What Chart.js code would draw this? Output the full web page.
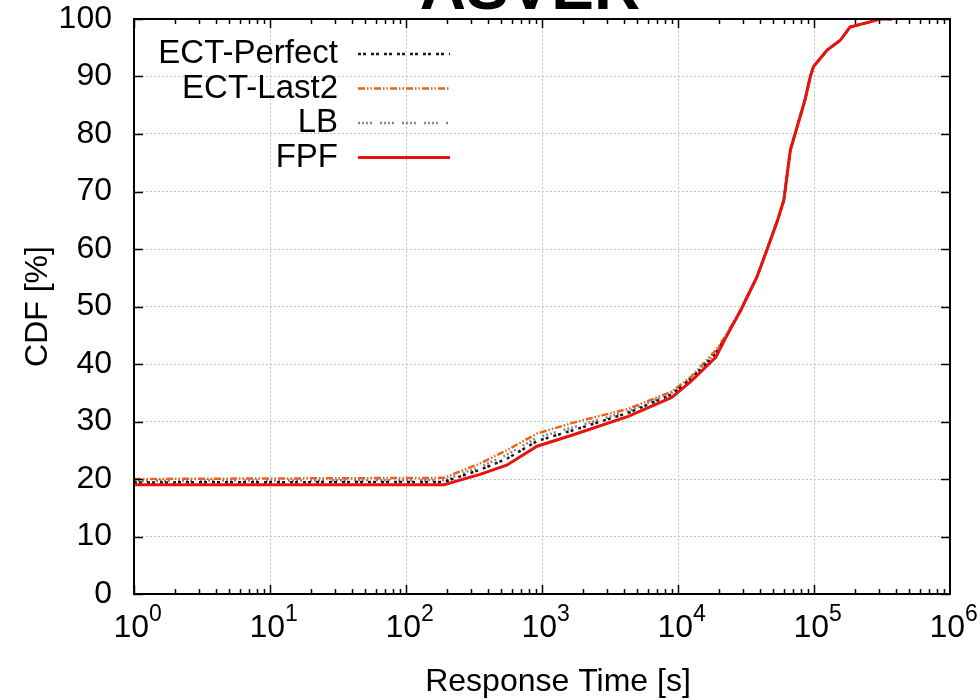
<!DOCTYPE html>
<html>
<head>
<meta charset="utf-8">
<script src="https://cdn.jsdelivr.net/npm/chart.js@4/dist/chart.umd.min.js"></script>
<style>
  html, body { margin: 0; padding: 0; background: #fff; }
  #wrap { width: 980px; height: 700px; overflow: hidden; position: relative; }
  #chart { position: absolute; left: 0; top: -40px; }
</style>
</head>
<body>
<div id="wrap"><canvas id="chart" width="980" height="740"></canvas></div>
<script>
// response times [s] shared by all four CDF curves
var responseTimes = [1, 190, 350, 550, 920, 1700, 4300, 9000, 12500, 19000, 22000, 29000, 38000, 45000, 54000, 60000, 67000, 79000, 86000, 94000, 99000, 125000, 156000, 184000, 258000, 305000, 375000];

// CDF [%] per policy
var ectPerfect = [19.4, 19.5, 21.6, 23.5, 26.6, 28.5, 31.5, 34.7, 37.4, 41.8, 44.3, 49.4, 55.1, 59.8, 65.0, 68.5, 77.2, 83.0, 86.0, 90.0, 91.7, 94.6, 96.3, 98.6, 99.5, 100, 100];
var ectLast2 = [20.0, 20.2, 22.7, 25.0, 27.9, 29.8, 32.2, 35.2, 37.8, 42.4, 44.6, 49.5, 55.2, 59.9, 65.0, 68.5, 77.2, 83.0, 86.0, 90.0, 91.7, 94.6, 96.3, 98.6, 99.5, 100, 100];
var lb = [19.7, 19.8, 22.1, 24.2, 27.2, 29.0, 31.8, 35.0, 37.6, 42.0, 44.4, 49.4, 55.1, 59.8, 65.0, 68.5, 77.2, 83.0, 86.0, 90.0, 91.7, 94.6, 96.3, 98.6, 99.5, 100, 100];
var fpf = [19.0, 19.0, 20.8, 22.4, 25.7, 27.7, 30.9, 34.2, 37.0, 41.2, 44.2, 49.4, 55.1, 59.8, 65.0, 68.5, 77.2, 83.0, 86.0, 90.0, 91.7, 94.6, 96.3, 98.6, 99.5, 100, 100];

var seriesNames = ['ECT-Perfect', 'ECT-Last2', 'LB', 'FPF'];
var xTicks = [1, 10, 100, 1000, 10000, 100000, 1000000];
var yTicks = [0, 10, 20, 30, 40, 50, 60, 70, 80, 90, 100];
var chartTitle = 'ASVER';
var xTitle = 'Response Time [s]';
var yTitle = 'CDF [%]';

var FONT = "'Liberation Sans', Arial, Helvetica, sans-serif";

function toPoints(ys) {
    var ret = [];
    for (var i = 0; i < ys.length; i++) {
        ret.push({ x: responseTimes[i], y: ys[i] });
    }
    return ret;
}

// frame, inward tick marks, x labels with exponents, title and legend
var framePlugin = {
    id: 'frame',
    afterDatasetsDraw: function (chart) {
        var ctx = chart.ctx;
        var a = chart.chartArea;
        var xs = chart.scales.x;
        var ys = chart.scales.y;
        ctx.save();
        ctx.strokeStyle = '#000';
        ctx.lineWidth = 1.5;
        ctx.beginPath();
        for (var d = 0; d < 6; d++) {
            for (var k = 1; k <= 9; k++) {
                var v = k * Math.pow(10, d);
                var px = Math.round(xs.getPixelForValue(v)) + 0.5;
                var len = k === 1 ? 9 : 5;
                ctx.moveTo(px, a.bottom); ctx.lineTo(px, a.bottom - len);
                ctx.moveTo(px, a.top); ctx.lineTo(px, a.top + len);
            }
        }
        for (var i = 0; i < yTicks.length; i++) {
            var py = Math.round(ys.getPixelForValue(yTicks[i])) + 0.5;
            ctx.moveTo(a.left, py); ctx.lineTo(a.left + 9, py);
            ctx.moveTo(a.right, py); ctx.lineTo(a.right - 9, py);
        }
        ctx.stroke();
        ctx.lineWidth = 2;
        ctx.strokeRect(a.left, a.top, a.right - a.left, a.bottom - a.top);

        ctx.fillStyle = '#000';

        // x tick labels as 10 with a raised exponent
        xTicks.forEach(function (v) {
            var px = xs.getPixelForValue(v);
            ctx.textBaseline = 'alphabetic';
            ctx.font = '32px ' + FONT;
            ctx.textAlign = 'right';
            ctx.fillText('10', px + 15, a.bottom + 43);
            ctx.font = '23px ' + FONT;
            ctx.textAlign = 'left';
            ctx.fillText(String(Math.round(Math.log10(v))), px + 15, a.bottom + 27);
        });

        // x axis title
        ctx.font = '32px ' + FONT;
        ctx.textAlign = 'center';
        ctx.textBaseline = 'middle';
        ctx.fillText(xTitle, 558, a.bottom + 88);

        // chart title, cut by the top edge
        ctx.font = 'bold 64px ' + FONT;
        ctx.textAlign = 'center';
        ctx.textBaseline = 'alphabetic';
        ctx.fillText(chartTitle, 530, a.top - 10);

        // legend
        ctx.font = '33px ' + FONT;
        ctx.textAlign = 'right';
        ctx.textBaseline = 'middle';
        chart.data.datasets.forEach(function (ds, n) {
            var y = a.top + 35 + n * 34.5;
            ctx.fillText(ds.label, 338, y);
            ctx.save();
            ctx.strokeStyle = ds.borderColor;
            ctx.lineWidth = ds.borderWidth;
            ctx.setLineDash(ds.borderDash || []);
            ctx.beginPath();
            ctx.moveTo(358, y);
            ctx.lineTo(450, y);
            ctx.stroke();
            ctx.restore();
        });
        ctx.restore();
    }
};

var ctx = document.getElementById('chart').getContext('2d');
var chart = new Chart(ctx, {
    type: 'line',
    data: {
        datasets: [{
            label: seriesNames[0],
            data: toPoints(ectPerfect),
            borderColor: '#1a1a1a',
            borderWidth: 2.5,
            borderDash: [3, 2, 3, 5],
            order: 1
        }, {
            label: seriesNames[1],
            data: toPoints(ectLast2),
            borderColor: '#f06018',
            borderWidth: 2.5,
            borderDash: [7, 2, 1.5, 2, 1.5, 2],
            order: 3
        }, {
            label: seriesNames[2],
            data: toPoints(lb),
            borderColor: '#888888',
            borderWidth: 2.5,
            borderDash: [2, 2, 2, 2, 2, 2, 2, 8],
            order: 2
        }, {
            label: seriesNames[3],
            data: toPoints(fpf),
            borderColor: '#e8120e',
            borderWidth: 3,
            order: 0
        }]
    },
    options: {
        responsive: false,
        animation: false,
        elements: {
            point: { radius: 0 },
            line: { tension: 0, fill: false }
        },
        layout: { padding: { top: 59, right: 30, bottom: 0, left: 0 } },
        plugins: {
            legend: { display: false },
            tooltip: { enabled: false },
            title: { display: false }
        },
        scales: {
            x: {
                type: 'logarithmic',
                min: 1,
                max: 1000000,
                afterFit: function (scale) { scale.height = 106; },
                afterBuildTicks: function (scale) {
                    scale.ticks = xTicks.map(function (v) { return { value: v }; });
                },
                ticks: { display: false },
                grid: {
                    color: '#b0b0b0',
                    lineWidth: 1,
                    drawTicks: false
                },
                border: { display: false, dash: [1.5, 2.5] }
            },
            y: {
                min: 0,
                max: 100,
                afterFit: function (scale) { scale.width = 134; },
                afterBuildTicks: function (scale) {
                    scale.ticks = yTicks.map(function (v) { return { value: v }; });
                },
                ticks: {
                    padding: 22,
                    color: '#000',
                    font: { family: FONT, size: 32 }
                },
                grid: {
                    color: '#b0b0b0',
                    lineWidth: 1,
                    drawTicks: false
                },
                border: { display: false, dash: [1.5, 2.5] },
                title: {
                    display: true,
                    text: yTitle,
                    color: '#000',
                    font: { family: FONT, size: 32, lineHeight: 1.2 },
                    padding: { top: 19, bottom: 0 }
                }
            }
        }
    },
    plugins: [framePlugin]
});
</script>
</body>
</html>
